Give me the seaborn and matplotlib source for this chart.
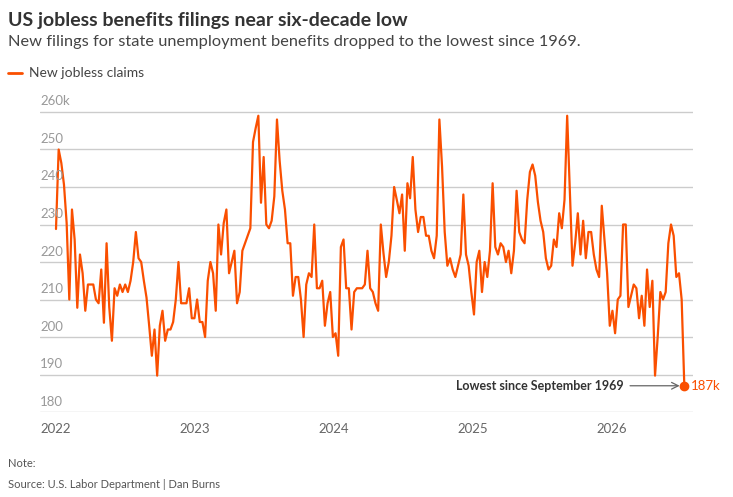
import matplotlib
matplotlib.use("Agg")
import matplotlib.pyplot as plt
import seaborn as sns
import pandas as pd
import numpy as np

claims = [228.8,250,246.4,240.6,230.4,210,234,226,207.8,222,217,207,214,214,214,210,209,218,203.8,225,
208,199,213,211,214,212,214,212,215,220,228,221,220,215,210.5,203,195,202,189.7,203,
207,199,202,202,204,210,220,209,209,209,213,205,205,210,204,204,200,215,220,217,207,230,
222,230.4,234,217,220,223,209,212,223,225,227,229,252,255.7,259,235.8,248,230,229,231,237.5,258,
247,239,234,225,225,211,216,216,210,200,214,217,216,230,213,213,215,203,209,212,200,201,195,224,
226,213,213,202,212,213,213,213,214,223,213,212,209,207,
230,222.4,216,220,227,240,236.6,233,238,223,241,237,248,234,228,232,232,227,227,223,221,227,258,245.5,
228,219,221,218,216,219,222,238,222,219,212,206,220,223,212,220,216,223,241,224,222,225,224,220,223,
217,223,239,228,226,225,236.6,244,246,243,236,231,228,221,218,
219,226,224,233,229,236.6,259,239,219,225,233,222,231,221,228,228,222,218,216,235,226,217,203,207,201,
210,211,230,230,208,211,214,213,205,211,203,218,208,215,189.7,200,212,210,212,225,230,227,216,217,210,187]
dates = pd.date_range("2022-01-01", periods=len(claims), freq="7D")
yticks = [180,190,200,210,220,230,240,250,260]
ytick_labels = ["180","190","200","210","220","230","240","250","260k"]
years = ["2022","2023","2024","2025","2026"]

ORANGE = "#fa4f00"
df = pd.DataFrame({"date": dates, "claims": claims})

sns.set_theme(style="white")
plt.rcParams['font.family'] = ['Lato', 'DejaVu Sans']
fig = plt.figure(figsize=(7.33, 4.97), dpi=100)
ax = fig.add_axes([0.0546, 0.171, 0.8904, 0.618])
sns.lineplot(data=df, x="date", y="claims", ax=ax, color=ORANGE, lw=1.6)
ax.set_ylim(180, 261.9)
ax.set_xlim(pd.Timestamp("2021-11-20"), pd.Timestamp("2026-08-02"))
for s in ax.spines.values():
    s.set_visible(False)
ax.set_yticks(yticks)
ax.yaxis.grid(True, color="#cccccc", lw=1)
ax.set_yticklabels([])
ax.tick_params(axis="y", length=0)
for v, l in zip(yticks, ytick_labels):
    ax.text(0.0, v + 1.2, l, transform=ax.get_yaxis_transform(), ha="left", va="bottom",
            fontsize=9.5, color="#999999")
ax.set_xticks([pd.Timestamp(y + "-01-01") for y in years])
ax.set_xticklabels(years, fontsize=9.5, color="#666666")
ax.tick_params(axis="x", length=0, pad=8)
ax.set_xlabel(""); ax.set_ylabel("")

last_d, last_v = dates[-1], claims[-1]
ax.plot([last_d], [last_v], "o", color=ORANGE, ms=6, clip_on=False, zorder=5)
ax.annotate("", xy=(last_d - pd.Timedelta(days=5), last_v),
            xytext=(last_d - pd.Timedelta(days=150), last_v),
            arrowprops=dict(arrowstyle="->", color="#666666", lw=0.9))
ax.text(last_d - pd.Timedelta(days=160), last_v, "Lowest since September 1969",
        ha="right", va="center", fontsize=9, fontweight="bold", color="#333333")
ax.text(last_d + pd.Timedelta(days=18), last_v, f"{last_v:.0f}k", ha="left", va="center",
        fontsize=9.5, color=ORANGE, clip_on=False)

fig.text(0.011, 0.958, "US jobless benefits filings near six-decade low", fontsize=14,
         fontweight="bold", color="#333333", va="center")
fig.text(0.011, 0.916, "New filings for state unemployment benefits dropped to the lowest since 1969.",
         fontsize=11.8, color="#444444", va="center")
fig.lines.append(plt.Line2D([0.011, 0.03], [0.853, 0.853], color=ORANGE, lw=2, transform=fig.transFigure))
fig.text(0.039, 0.853, "New jobless claims", fontsize=10, color="#444444", va="center")
fig.text(0.011, 0.068, "Note:", fontsize=8, color="#555555", va="center")
fig.text(0.011, 0.026, "Source: U.S. Labor Department | Dan Burns", fontsize=8, color="#555555", va="center")
fig.savefig("out.png", dpi=100)
